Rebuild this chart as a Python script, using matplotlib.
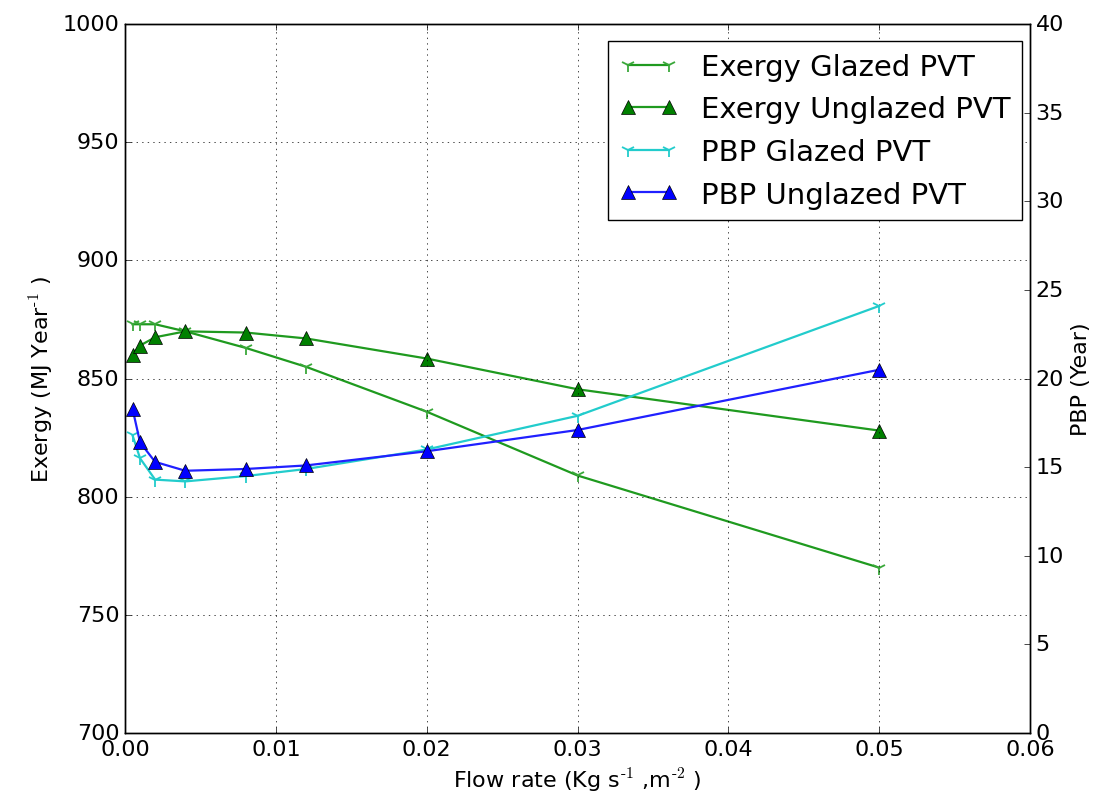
import numpy as np
import matplotlib
matplotlib.use("Agg")
import matplotlib.pyplot as plt

# flow rate values (Kg s^-1 m^-2)
flow = [0.0005, 0.001, 0.002, 0.004, 0.008, 0.012, 0.02, 0.03, 0.05]

# exergy, MJ per year
exergy_glazed = [873, 873, 873, 870, 863, 855, 836, 809, 770]
exergy_unglazed = [860, 864, 867.5, 870, 869.5, 867, 858.5, 845.5, 828]

# pay back period, years
pbp_glazed = [16.8, 15.5, 14.3, 14.2, 14.5, 14.9, 16.0, 17.9, 24.1]
pbp_unglazed = [18.3, 16.4, 15.3, 14.8, 14.9, 15.1, 15.9, 17.1, 20.5]

plt.style.use('classic')
plt.rcParams['font.family'] = ['DejaVu Sans']

fig = plt.figure(figsize=(11.09, 8.12), dpi=100, facecolor='white')
ax = fig.add_axes([0.1127, 0.096, 0.8161, 0.873])
ax2 = ax.twinx()

lw = 1.6
l1, = ax.plot(flow, exergy_glazed, color='#1f9a1f', lw=lw, marker='1', markersize=10,
              markeredgewidth=1.3, markeredgecolor='#3aa83a', label='Exergy Glazed PVT')
l2, = ax.plot(flow, exergy_unglazed, color='#1f9a1f', lw=lw, marker='^', markersize=10,
              markerfacecolor='g', label='Exergy Unglazed PVT')
l3, = ax2.plot(flow, pbp_glazed, color='#22cccc', lw=lw, marker='1', markersize=10,
               markeredgewidth=1.3, markeredgecolor='#22cccc', label='PBP Glazed PVT')
l4, = ax2.plot(flow, pbp_unglazed, color='#2020ff', lw=lw, marker='^', markersize=10,
               markerfacecolor='b', label='PBP Unglazed PVT')

ax.set_xlim(0, 0.06)
ax.set_ylim(700, 1000)
ax2.set_ylim(0, 40)
ax.set_xticks(np.arange(0, 0.061, 0.01))
ax.set_yticks(np.arange(700, 1001, 50))
ax2.set_yticks(np.arange(0, 41, 5))
ax.grid(True)

ax.tick_params(labelsize=16)
ax2.tick_params(labelsize=16)
ax.set_xlabel(r'Flow rate (Kg s$^{\text{-1}}$ ,m$^{\text{-2}}$ )', fontsize=16)
ax.set_ylabel(r'Exergy (MJ Year$^{\text{-1}}$ )', fontsize=16)
ax2.set_ylabel('PBP (Year)', fontsize=16)

ax.legend(handles=[l1, l2, l3, l4], loc='upper right', fontsize=21,
          numpoints=2, bbox_to_anchor=(0.9912, 0.976), borderaxespad=0)

fig.savefig('out.png', dpi=100, facecolor='white')
